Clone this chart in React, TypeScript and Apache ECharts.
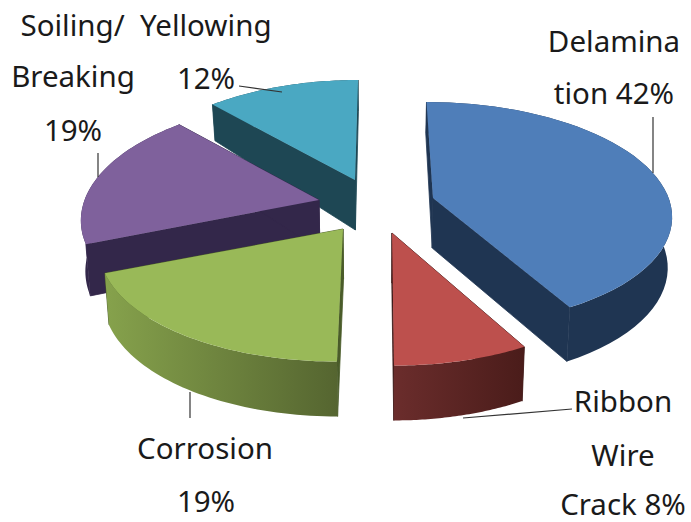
import React, { useEffect, useRef } from "react";
import * as echarts from "echarts";

const categories = ["Delamination", "Ribbon Wire Crack", "Corrosion", "Breaking", "Soiling/ Yellowing"];
const shares = [42, 8, 19, 19, 12];
const topColors = ["#4f7eb9", "#bd504d", "#99b958", "#7f619c", "#4aa8c2"];
const wallStart = ["#1f3552", "#3a1715", "#4a5c2a", "#33274a", "#1e4754"];
const wallOuter = [
  ["#1f3552", "#1f3552"],
  ["#6b2d2c", "#4a1c1a"],
  ["#86a24c", "#556530"],
  ["#33274a", "#33274a"],
  ["#1e4754", "#1e4754"],
];
const paintOrder = [4, 3, 2, 0, 1];

const labelTexts = [
  { text: "Delamina", x: 614, y: 40 },
  { text: "tion 42%", x: 614, y: 92 },
  { text: "Soiling/  Yellowing", x: 146, y: 24 },
  { text: "12%", x: 206, y: 77 },
  { text: "Breaking", x: 73, y: 75 },
  { text: "19%", x: 73, y: 129 },
  { text: "Corrosion", x: 205, y: 447 },
  { text: "19%", x: 206, y: 500 },
  { text: "Ribbon", x: 623, y: 400 },
  { text: "Wire", x: 623, y: 454 },
  { text: "Crack 8%", x: 623, y: 503 },
];
const leaderLines = [
  [653, 117, 653, 173],
  [572, 409, 463, 418],
  [190, 392, 190, 418],
  [98, 153, 98, 177],
  [239, 86, 282, 92],
];

// Layout of the exploded, perspective pie
const apexes = [
  [433, 198],
  [392, 233],
  [343, 229],
  [319, 200],
  [355, 180],
];
const rxScale = [0.99, 1, 1.012, 0.985, 0.98];
const ryScale = [0.96, 1, 1, 1, 1];
const RX = 238;
const RY = 114;
const PERSP = 0.14;
const VX = 380;

const total = shares.reduce((a, b) => a + b, 0);

function rim(idx: number, theta: number) {
  const [ax, ay] = apexes[idx];
  const sn = Math.sin(theta);
  const yd = -Math.cos(theta);
  const s = 1 / (1 - PERSP * yd);
  const x = VX + (ax + RX * rxScale[idx] * sn - VX) * s;
  const y = ay + RY * ryScale[idx] * yd * s;
  const depth = s >= 1 ? 50 + (s - 1) * 30 : 50 - (1 - s) * 150;
  return { top: [x, y], bottom: [VX + (x - VX) * 0.985, y + depth] };
}

function linear(c: string[]) {
  return {
    type: "linear",
    x: 0,
    y: 0,
    x2: 1,
    y2: 0,
    colorStops: [
      { offset: 0, color: c[0] },
      { offset: 1, color: c[1] },
    ],
  };
}

function renderItem(params: any, api: any) {
  const idx = api.value(1) as number;
  const value = api.value(0) as number;
  let before = 0;
  for (let i = 0; i < idx; i++) before += shares[i];
  const a0 = (before / total) * Math.PI * 2;
  const a1 = ((before + value) / total) * Math.PI * 2;
  const [ax, ay] = apexes[idx];
  const apexBottom = [VX + (ax - VX) * 0.985, ay + 50];
  const steps = 48;
  const pts = [];
  for (let i = 0; i <= steps; i++) pts.push(rim(idx, a0 + ((a1 - a0) * i) / steps));
  const topArc = pts.map((p) => p.top);
  const botArc = pts.map((p) => p.bottom);
  const poly = (points: number[][], fill: any, stroke?: string) => ({
    type: "polygon",
    shape: { points },
    style: { fill, stroke, lineWidth: stroke ? 0.8 : 0 },
    silent: true,
  });
  return {
    type: "group",
    children: [
      poly([[ax, ay], topArc[0], botArc[0], apexBottom], wallStart[idx], wallStart[idx]),
      poly([[ax, ay], topArc[steps], botArc[steps], apexBottom], wallStart[idx], wallStart[idx]),
      poly([...topArc, ...botArc.slice().reverse()], linear(wallOuter[idx])),
      poly([[ax, ay], ...topArc], topColors[idx]),
    ],
  };
}

export default function App() {
  const ref = useRef<HTMLDivElement>(null);
  useEffect(() => {
    document.body.style.margin = "0";
    const chart = echarts.init(ref.current!, undefined, { renderer: "svg" });
    chart.setOption({
      animation: false,
      backgroundColor: "#ffffff",
      series: [
        {
          type: "custom",
          coordinateSystem: "none",
          renderItem,
          silent: true,
          data: paintOrder.map((i) => ({ name: categories[i], value: [shares[i], i] })),
        },
      ],
      graphic: [
        ...leaderLines.map((l) => ({
          type: "line",
          z: 10,
          shape: { x1: l[0], y1: l[1], x2: l[2], y2: l[3] },
          style: { stroke: "#333333", lineWidth: 1.2 },
          silent: true,
        })),
        ...labelTexts.map((t) => ({
          type: "text",
          z: 11,
          x: t.x,
          y: t.y,
          silent: true,
          style: {
            text: t.text,
            fill: "#1a1a1a",
            font: '29.5px "Noto Sans"',
            align: "center",
            verticalAlign: "middle",
          },
        })),
      ],
    });
    return () => chart.dispose();
  }, []);
  return <div ref={ref} style={{ width: 691, height: 522 }} />;
}
